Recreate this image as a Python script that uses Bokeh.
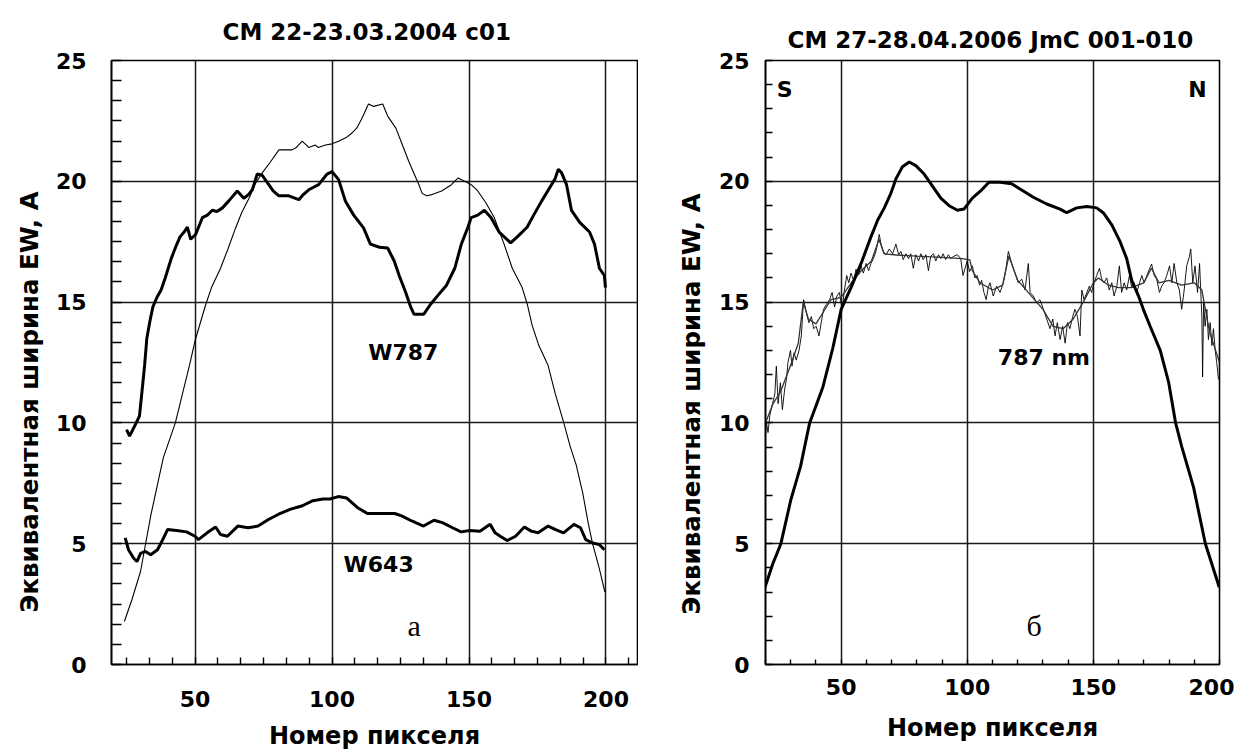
from bokeh.plotting import figure
from bokeh.layouts import row
from bokeh.models import Range1d, FixedTicker, Title
from bokeh.core.properties import value
from bokeh.embed import file_html
from bokeh.resources import INLINE
import numpy as np

# ---------------- data: left panel (CM 22-23.03.2004 c01) ----------------
left_title = "CM 22-23.03.2004 c01"
w787_thick_x = [25, 26.1, 27.9, 29.7, 30.9, 31.6, 32.4, 33.5, 34.6, 36.1, 37.6, 39.1, 41.3, 43, 44.5, 46, 47.2, 48.4,
                50.2, 52.7, 54.5, 56.3, 58, 60, 62.4, 65.4, 67.8, 69.5, 70.9, 72.7, 74.5, 76.9, 78.5, 80.6, 84.2,
                87.9, 89.5, 91.5, 95.1, 98.2, 100, 102.4, 104.9, 107.9, 111.5, 114, 117.3, 120.3, 122.7, 124.5,
                126.9, 128.7, 129.9, 133.5, 135.9, 138.8, 141.8, 144.8, 147.2, 149.6, 150.8, 153.2, 155.6, 158,
                161, 165.2, 167.6, 171.2, 173.6, 176.6, 179, 181.4, 182.6, 183.8, 185.6, 187.4, 190.4, 194, 195.8,
                197.6, 199.4, 199.8]
w787_thick_y = [9.72, 9.45, 9.86, 10.28, 11.6, 12.4, 13.5, 14.2, 14.8, 15.2, 15.5, 16.0, 16.8, 17.3, 17.7, 17.9, 18.1,
                17.6, 17.8, 18.5, 18.6, 18.8, 18.75, 18.9, 19.2, 19.6, 19.3, 19.45, 19.65, 20.3, 20.25, 19.86, 19.6,
                19.4, 19.4, 19.24, 19.45, 19.65, 19.86, 20.3, 20.4, 20.07, 19.17, 18.6, 18.07, 17.4, 17.27, 17.24,
                16.7, 16.1, 15.4, 14.8, 14.5, 14.5, 14.9, 15.3, 15.7, 16.4, 17.4, 18.1, 18.5, 18.6, 18.8, 18.5,
                17.9, 17.45, 17.7, 18.1, 18.6, 19.2, 19.65, 20.1, 20.5, 20.35, 19.86, 18.8, 18.3, 17.9, 17.4,
                16.4, 16.1, 15.6]
w787_thin_x = [24.2, 27, 30.1, 33.9, 38.4, 42.8, 48, 50, 53.9, 56, 59.3, 62, 64.8, 67, 69.7, 72, 74.5, 77.5, 80.6,
               83, 85.4, 87, 89.1, 91.5, 93.9, 95, 97.6, 100, 102.4, 105, 107.3, 109, 110.9, 113.3, 115.2, 118.5,
               120.3, 123.3, 125.7, 128.1, 131.7, 132.9, 134.5, 136.5, 140, 143.6, 146, 148.4, 150.8, 153.2,
               156.2, 159.2, 162.8, 165.8, 169.4, 171.3, 173, 175.5, 178.8, 181.5, 184.6, 187, 189.1, 191.5,
               193.6, 195.1, 197.5, 199.6]
w787_thin_y = [1.78, 2.7, 3.85, 6.2, 8.55, 10.0, 12.4, 13.4, 14.9, 15.6, 16.4, 17.2, 18.07, 18.7, 19.3, 19.9, 20.35,
               20.8, 21.3, 21.3, 21.3, 21.4, 21.66, 21.4, 21.5, 21.4, 21.5, 21.55, 21.66, 21.8, 22.0, 22.2, 22.6,
               23.2, 23.1, 23.2, 22.7, 22.2, 21.5, 20.8, 19.86, 19.5, 19.4, 19.45, 19.6, 19.86, 20.14, 20.0, 19.86,
               19.6, 19.1, 18.5, 17.4, 16.4, 15.6, 14.9, 14.06, 13.2, 12.4, 11.2, 10.0, 9.0, 8.27, 7.1, 5.8, 5.0,
               4.0, 3.0]
w643_x = [24.5, 25.7, 27.6, 28.8, 30.1, 31.9, 33.8, 36.3, 38.2, 40, 43.2, 46.9, 50, 51.2, 54.4, 57.5, 59.3, 61.8,
          65.6, 69.3, 73, 76.8, 80.5, 84.9, 89.2, 93, 96.7, 99.2, 102.3, 105.4, 109.2, 112.9, 117.9, 122.9, 125.4,
          129.1, 133.4, 137.2, 140.3, 144, 147.1, 150.2, 154, 157.7, 159.5, 161.4, 163.9, 167, 170.2, 172.7,
          175.2, 178.9, 181.4, 184.5, 188.3, 190.7, 192.6, 195.1, 197.6, 199.4]
w643_y = [5.24, 4.75, 4.4, 4.26, 4.6, 4.68, 4.54, 4.75, 5.17, 5.59, 5.55, 5.49, 5.31, 5.17, 5.45, 5.69, 5.38, 5.31,
          5.73, 5.66, 5.73, 6.0, 6.22, 6.43, 6.57, 6.78, 6.85, 6.85, 6.95, 6.89, 6.5, 6.25, 6.25, 6.25, 6.15,
          5.94, 5.73, 5.97, 5.87, 5.66, 5.49, 5.55, 5.52, 5.8, 5.45, 5.31, 5.13, 5.31, 5.69, 5.52, 5.45, 5.73,
          5.59, 5.45, 5.8, 5.66, 5.17, 5.03, 4.96, 4.75]
left_text = ["W787", "W643"]
left_text_x = [126, 117]
left_text_y = [12.9, 4.15]
left_letter = ["а"]
left_letter_x = [130]
left_letter_y = [1.6]

# ---------------- data: right panel (CM 27-28.04.2006 JmC 001-010) ----------------
right_title = "CM 27-28.04.2006 JmC 001-010"
r_thick_x = [19.8, 22.9, 26.1, 30, 33.9, 35.5, 37.5, 40, 42.8, 44.5, 46.7, 50, 53.9, 57.9, 61.8, 64.5, 67.1, 69.7,
             71.7, 74.3, 77, 79.6, 82.9, 86.2, 89.5, 92.8, 96.1, 98.7, 102, 105.3, 108.6, 113, 117.6, 122.2,
             126.2, 131.5, 136.8, 139.4, 143.4, 147.4, 151.3, 153.9, 157.3, 160.6, 163.2, 165.2, 167.9, 169.8,
             172.5, 176.5, 179.8, 182.6, 185, 189.7, 194.4, 199.9]
r_thick_y = [3.2, 4.17, 5.0, 6.8, 8.2, 9.0, 10.0, 10.7, 11.5, 12.2, 13.1, 14.7, 15.6, 16.6, 17.7, 18.4, 18.9, 19.5,
             20.1, 20.6, 20.8, 20.65, 20.3, 19.8, 19.3, 18.99, 18.8, 18.85, 19.3, 19.6, 19.96, 19.96, 19.9, 19.6,
             19.34, 19.06, 18.85, 18.7, 18.9, 18.96, 18.9, 18.7, 18.2, 17.5, 16.8, 15.9, 15.25, 14.7, 14.0, 13.0,
             11.7, 10.0, 9.03, 7.34, 5.0, 3.2]
nm787_raw_x = [19.7, 20.4, 21, 21.7, 22.8, 23.7, 24.3, 25, 25.9, 26.7, 27.6, 28.3, 28.9, 29.9, 30.5, 31.3, 32.2,
               33.3, 34.2, 35.1, 36.2, 37.2, 38.2, 39.1, 40.1, 41.2, 42.1, 43, 44.1, 45.4, 46.4, 47.4, 48.3, 49.3,
               50.4, 51.3, 52.2, 53, 53.9, 54.9, 55.9, 57, 57.9, 58.8, 59.9, 60.9, 61.8, 62.8, 63.8, 65.1, 65.8,
               66.7, 67.8, 69.1, 70.4, 71.7, 72.8, 73.7, 74.6, 75.7, 76.7, 77.6, 78.6, 79.6, 80.7, 81.6, 82.5,
               83.6, 84.6, 85.5, 86.6, 87.5, 88.6, 89.5, 90.4, 91.4, 92.5, 93.4, 94.7, 96.1, 97.4, 98.3, 99.1,
               100, 100.9, 102, 103, 103.9, 104.9, 105.7, 106.6, 107.5, 108.3, 109, 110.3, 111.6, 113, 114.3,
               115.3, 116.3, 117.6, 118.9, 120.2, 121.6, 122.9, 124.2, 124.9, 126.2, 127.5, 128.8, 130.2, 131.5,
               132.8, 133.9, 134.8, 135.7, 136.8, 137.8, 138.8, 139.7, 140.7, 141.8, 142.7, 143.7, 144.7, 145.4,
               146.3, 147.4, 148.4, 149.3, 150.3, 151.3, 152.4, 153.3, 154.2, 155.3, 156.3, 157.3, 158.2, 159.3,
               160.3, 161.2, 162.2, 163.2, 164.3, 165.2, 166.1, 167.2, 168.3, 169.2, 170.1, 171.2, 172.2, 173.1,
               174.1, 175.1, 176.2, 177.1, 178, 179.1, 180.2, 181.1, 182, 183.1, 184.1, 185, 186, 187, 188.1,
               188.6, 189.4, 190.3, 191.3, 192.1, 193, 193.3, 193.7, 194.3, 195, 195.6, 196.3, 197, 197.6, 198.3,
               198.9, 199.6]
nm787_raw_y = [9.17, 10.0, 9.6, 10.3, 10.8, 11.2, 12.35, 10.8, 11.66, 10.55, 11.4, 11.8, 12.5, 13.0, 12.35, 12.9,
               12.6, 13.0, 13.6, 15.1, 14.56, 14.15, 14.4, 13.9, 14.0, 13.6, 14.15, 14.7, 14.9, 15.1, 15.4, 14.8,
               15.25, 15.4, 14.7, 15.5, 16.1, 15.8, 16.2, 15.9, 16.36, 16.15, 16.5, 16.2, 16.6, 16.3, 16.6, 16.8,
               17.1, 17.8, 17.4, 17.1, 16.96, 17.2, 17.0, 17.4, 16.96, 17.1, 16.76, 17.0, 16.8, 17.0, 16.4, 16.96,
               16.7, 17.0, 16.76, 16.96, 16.3, 16.9, 17.0, 16.7, 16.96, 16.8, 17.0, 16.76, 16.96, 16.8, 16.9,
               16.96, 16.8, 16.1, 16.4, 16.7, 16.26, 16.5, 16.0, 16.1, 15.7, 15.9, 15.4, 15.1, 15.6, 15.8, 15.25,
               15.66, 15.4, 15.8, 16.36, 17.1, 16.6, 16.2, 15.8, 15.95, 15.5, 16.6, 15.4, 15.25, 14.97, 15.1, 14.7,
               14.3, 13.9, 14.3, 13.6, 14.15, 13.45, 14.0, 13.3, 14.15, 13.9, 14.4, 14.7, 14.4, 13.6, 15.5, 15.1,
               15.4, 15.66, 15.4, 15.8, 16.1, 16.4, 15.95, 15.8, 16.0, 15.5, 15.8, 15.25, 15.66, 16.5, 15.4, 15.8,
               15.5, 16.1, 15.6, 15.8, 15.4, 15.8, 16.1, 15.8, 16.1, 16.36, 16.57, 16.1, 15.95, 15.4, 15.66, 15.8,
               16.1, 16.5, 15.8, 16.6, 15.8, 15.5, 14.7, 15.5, 16.5, 16.9, 17.2, 15.8, 16.5, 15.4, 16.6, 14.4,
               11.9, 14.97, 14.0, 14.7, 13.45, 14.15, 13.2, 13.9, 13.0, 12.5, 11.8]
nm787_smooth_x = [20, 23, 26, 30, 33, 35, 37, 40, 43, 46, 50, 54, 58, 62, 65, 67, 72, 80, 90, 98, 101, 102, 105,
                  110, 114, 116.5, 120, 125, 130, 134, 138, 142, 146, 150, 152, 156, 160, 165, 170, 173, 176, 180,
                  185, 190, 193, 196, 200]
nm787_smooth_y = [10.0, 10.8, 11.3, 12.4, 13.3, 15.0, 14.3, 14.1, 14.6, 15.1, 15.2, 15.8, 16.3, 16.7, 17.6, 17.0,
                  16.95, 16.9, 16.85, 16.8, 16.75, 16.3, 15.8, 15.5, 15.7, 16.9, 15.9, 15.3, 14.7, 14.0, 13.9,
                  14.3, 15.0, 15.8, 16.0, 15.7, 15.6, 15.6, 15.8, 16.4, 15.8, 15.9, 15.7, 15.8, 15.5, 13.8, 12.5]
right_text = ["787 nm", "S", "N"]
right_text_x = [130.4, 27.6, 191.3]
right_text_y = [12.7, 23.8, 23.8]
right_letter = ["б"]
right_letter_x = [126.5]
right_letter_y = [1.6]

x_label = "Номер пикселя"
y_label = "Эквивалентная ширина EW, A"
x_ticks = [50, 100, 150, 200]
y_ticks = [0, 5, 10, 15, 20, 25]

FONT = "DejaVu Sans"
FRAME_TOP = 58
FRAME_H = 604
FIG_H = 749


def make_fig(xr, frame_w, bl, br):
    p = figure(frame_width=frame_w, frame_height=FRAME_H, min_border_left=bl, min_border_right=br,
               min_border_top=FRAME_TOP, min_border_bottom=FIG_H - FRAME_TOP - FRAME_H,
               output_backend="svg", toolbar_location=None,
               x_range=Range1d(*xr), y_range=Range1d(0, 25))
    p.background_fill_color = "white"
    p.border_fill_color = "white"
    return p


def style(p, title, title_offset, title_standoff, xminor, yminor, xminlen, yminlen, ymaj_standoff,
          xmaj_standoff, xlab_standoff, ylab_offset, ylab_standoff):
    p.xaxis.ticker = FixedTicker(ticks=x_ticks, minor_ticks=xminor)
    p.yaxis.ticker = FixedTicker(ticks=y_ticks, minor_ticks=yminor)
    for ax in (p.xaxis, p.yaxis):
        ax.axis_line_color = "black"
        ax.axis_line_width = 1.6
        ax.major_tick_in = 0
        ax.major_tick_out = 0
        ax.minor_tick_out = 0
        ax.minor_tick_line_color = "black"
        ax.minor_tick_line_width = 1.4
        ax.major_label_text_font = FONT
        ax.major_label_text_font_style = "bold"
        ax.major_label_text_font_size = "22px"
        ax.major_label_text_color = "black"
    p.xaxis.minor_tick_in = xminlen
    p.yaxis.minor_tick_in = yminlen
    p.yaxis.major_label_standoff = ymaj_standoff
    p.xaxis.major_label_standoff = xmaj_standoff
    p.xaxis.axis_label = x_label
    p.xaxis.axis_label_text_font = FONT
    p.xaxis.axis_label_text_font_style = "bold"
    p.xaxis.axis_label_text_font_size = "24px"
    p.xaxis.axis_label_text_color = "black"
    p.xaxis.axis_label_standoff = xlab_standoff
    p.grid.grid_line_color = "#1a1a1a"
    p.grid.grid_line_width = 1.5
    p.grid.grid_line_alpha = 1.0
    p.outline_line_color = "black"
    p.outline_line_width = 1.6
    p.outline_line_alpha = 1.0
    # title
    p.title.text = title
    p.title.align = "left"
    p.title.offset = title_offset
    p.title.standoff = title_standoff
    p.title.text_font = FONT
    p.title.text_font_style = "bold"
    p.title.text_font_size = "23px"
    p.title.text_color = "black"
    # y-axis label as a side title (allows shifting along the axis)
    p.add_layout(Title(text=y_label, align="left", offset=ylab_offset, standoff=ylab_standoff,
                       text_font=FONT, text_font_style="bold", text_font_size="24.5px",
                       text_color="black"), "left")


# ---------------- left figure ----------------
p1 = make_fig((19.5, 211.5), 526, 111, 1)
style(p1, left_title, 111, 32, list(np.arange(25, 211, 50 / 6)), list(np.arange(0, 25.01, 5 / 6)), 7, 10,
      25, 26, 12, 52, 18)
p1.line(w787_thin_x, w787_thin_y, line_color="black", line_width=1.1)
p1.line(w787_thick_x, w787_thick_y, line_color="black", line_width=3.0)
p1.line(w643_x, w643_y, line_color="black", line_width=3.0)
p1.text(x=left_text_x, y=left_text_y, text=left_text, text_font=value(FONT), text_font_style="bold",
        text_font_size="22px", text_align="center", text_baseline="middle", text_color="black")
p1.text(x=left_letter_x, y=left_letter_y, text=left_letter, text_font=value("Liberation Serif"),
        text_font_size="30px", text_align="center", text_baseline="middle", text_color="black")

# ---------------- right figure ----------------
p2 = make_fig((20, 200), 454, 127, 15)
style(p2, right_title, 22, 16, list(np.arange(20, 201, 10)), list(np.arange(0, 25.01, 1)), 5, 7,
      16, 14, 16, 50, 19)
p2.line(nm787_raw_x, nm787_raw_y, line_color="black", line_width=0.9)
p2.line(nm787_smooth_x, nm787_smooth_y, line_color="#333333", line_width=1.3)
p2.line(r_thick_x, r_thick_y, line_color="black", line_width=3.0)
p2.text(x=right_text_x, y=right_text_y, text=right_text, text_font=value(FONT), text_font_style="bold",
        text_font_size="22px", text_align="center", text_baseline="middle", text_color="black")
p2.text(x=right_letter_x, y=right_letter_y, text=right_letter, text_font=value("Liberation Serif"),
        text_font_size="30px", text_align="center", text_baseline="middle", text_color="black")

layout = row(p1, p2, spacing=0)
open("out.html", "w").write(file_html(layout, INLINE))
